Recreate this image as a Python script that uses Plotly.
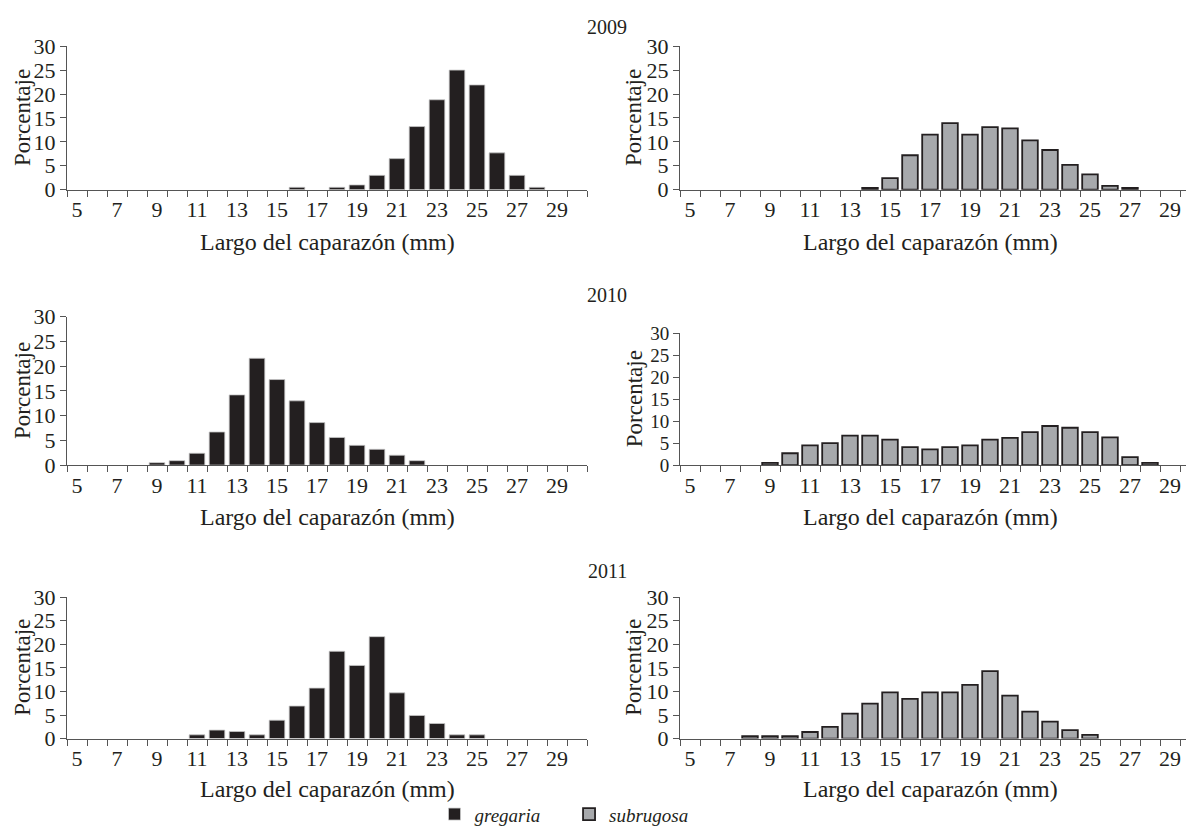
import plotly.graph_objects as go

W, H = 1194, 827

# ---------------- data ----------------
sizes = list(range(5, 31))  # carapace length classes (mm)
tick_labels = list(range(5, 30, 2))
years = ["2009", "2010", "2011"]

greg_2009 = [0, 0, 0, 0, 0, 0, 0, 0, 0, 0, 0, 0.5, 0, 0.5, 1.0, 3.0, 6.5, 13.2, 18.8, 25.0, 21.9, 7.7, 3.0, 0.5, 0, 0]
subr_2009 = [0, 0, 0, 0, 0, 0, 0, 0, 0, 0.4, 2.4, 7.2, 11.5, 13.9, 11.5, 13.1, 12.8, 10.3, 8.3, 5.2, 3.2, 0.8, 0.4, 0, 0, 0]
greg_2010 = [0, 0, 0, 0, 0.5, 0.9, 2.4, 6.7, 14.2, 21.6, 17.3, 13.0, 8.6, 5.6, 4.0, 3.2, 2.0, 0.9, 0, 0, 0, 0, 0, 0, 0, 0]
subr_2010 = [0, 0, 0, 0, 0.5, 2.7, 4.5, 5.0, 6.7, 6.7, 5.8, 4.1, 3.6, 4.1, 4.5, 5.8, 6.2, 7.5, 8.9, 8.5, 7.5, 6.3, 1.8, 0.5, 0, 0]
greg_2011 = [0, 0, 0, 0, 0, 0, 0.8, 1.8, 1.5, 0.8, 3.9, 6.9, 10.7, 18.5, 15.5, 21.6, 9.7, 4.9, 3.2, 0.8, 0.8, 0, 0, 0, 0, 0]
subr_2011 = [0, 0, 0, 0.5, 0.5, 0.5, 1.4, 2.5, 5.3, 7.4, 9.8, 8.4, 9.8, 9.8, 11.4, 14.3, 9.1, 5.7, 3.6, 1.8, 0.8, 0, 0, 0, 0, 0]

gregaria = [greg_2009, greg_2010, greg_2011]
subrugosa = [subr_2009, subr_2010, subr_2011]

# ---------------- styling ----------------
FONT = "Liberation Serif, Times New Roman, serif"
INK = "#231f20"
GREY = "#a7a9ac"
AXC = "#555555"
TICK_FS = 22
TITLE_FS = 24
YLAB_FS = 23
YEAR_FS = 20
LEG_FS = 19


def px(x):
    return x / W


def py(y):
    return 1 - y / H


# panel pixel boxes
left_x = (59, 579)
right_x = (672, 1192)
rows_left = [(27, 175), (306, 459), (595, 741)]
rows_right = [(27, 175), (323, 459), (595, 741)]
title_y = [229, 512, 793]
year_y = [7, 284, 568]
title_x = [319, 922]
ylab_x = [15, 626]

fig = go.Figure()
layout = dict(
    width=W, height=H, margin=dict(l=0, r=0, t=0, b=0),
    paper_bgcolor="white", plot_bgcolor="white",
    font=dict(family=FONT, color=INK, size=TICK_FS),
    showlegend=True,
    legend=dict(orientation="h", x=px(556), y=py(819), xanchor="center", yanchor="middle",
                font=dict(family=FONT, size=LEG_FS, color=INK), itemwidth=30,
                traceorder="normal", bgcolor="rgba(0,0,0,0)"),
)

annotations = []


def nz(vals):
    return [v if v != 0 else None for v in vals]


idx = 1
for r in range(3):
    for c, (series, xbox, rows, fill, line, lw, name) in enumerate([
        (gregaria, left_x, rows_left, INK, "#c8c8c8", 0.8, "<i>gregaria</i>&nbsp;&nbsp;&nbsp;&nbsp;&nbsp;"),
        (subrugosa, right_x, rows_right, GREY, INK, 1.8, "<i>subrugosa</i>"),
    ]):
        xa = "x" if idx == 1 else f"x{idx}"
        ya = "y" if idx == 1 else f"y{idx}"
        top, bot = rows[r]
        fig.add_trace(go.Bar(
            x=sizes, y=nz(series[r]), xaxis=xa, yaxis=ya,
            marker=dict(color=fill, line=dict(color=line, width=lw)),
            width=0.78, name=name, showlegend=(r == 0),
            legendgroup=name,
        ))
        xkey = "xaxis" if idx == 1 else f"xaxis{idx}"
        ykey = "yaxis" if idx == 1 else f"yaxis{idx}"
        ytick_fs = 19 if (r == 1 and c == 1) else TICK_FS
        layout[xkey] = dict(
            domain=[px(xbox[0]), px(xbox[1])], anchor=ya,
            range=[4.5, 30.5], showline=True, linecolor=AXC, linewidth=1,
            tickvals=tick_labels, ticktext=[str(t) for t in tick_labels], ticks="",
            minor=dict(ticks="outside", tick0=4.5, dtick=1, ticklen=6, tickcolor=AXC, tickwidth=1),
            showgrid=False, zeroline=False, tickfont=dict(size=TICK_FS, family=FONT, color=INK),
            fixedrange=True,
        )
        layout[ykey] = dict(
            domain=[py(bot), py(top)], anchor=xa,
            range=[0, 30], tickvals=list(range(0, 31, 5)), ticks="outside", ticklen=6,
            tickcolor=AXC, showline=True, linecolor=AXC, linewidth=1,
            showgrid=False, zeroline=False, tickfont=dict(size=ytick_fs, family=FONT, color=INK),
            fixedrange=True,
        )
        annotations.append(dict(
            text="Largo del caparazón (mm)", xref="paper", yref="paper",
            x=px(title_x[c]), y=py(title_y[r]), xanchor="center", yanchor="middle",
            showarrow=False, font=dict(size=TITLE_FS, family=FONT, color=INK)))
        annotations.append(dict(
            text="Porcentaje", xref="paper", yref="paper",
            x=px(ylab_x[c]), y=py((top + bot) / 2), textangle=-90,
            xanchor="center", yanchor="middle", showarrow=False,
            font=dict(size=YLAB_FS, family=FONT, color=INK)))
        idx += 1
    annotations.append(dict(
        text=years[r], xref="paper", yref="paper", x=px(599), y=py(year_y[r]),
        xanchor="center", yanchor="middle", showarrow=False,
        font=dict(size=YEAR_FS, family=FONT, color=INK)))

layout["annotations"] = annotations
fig.update_layout(**layout)
fig.write_html("out.html")
